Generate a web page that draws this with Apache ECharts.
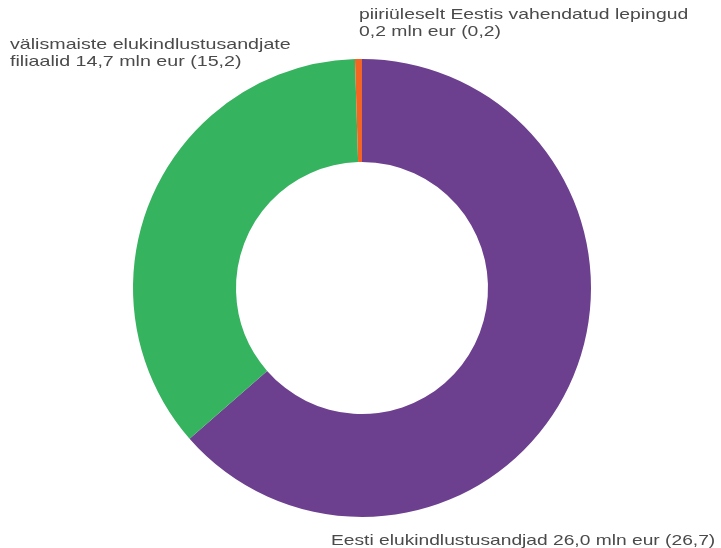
<!DOCTYPE html>
<html>
<head>
<meta charset="utf-8">
<script src="https://cdn.jsdelivr.net/npm/echarts@6/dist/echarts.min.js"></script>
<style>
  html, body { margin: 0; padding: 0; background: #fff; }
  #chart { width: 721px; height: 548px; }
</style>
</head>
<body>
<div id="chart"></div>
<script>
const names = ["Eesti elukindlustusandjad", "välismaiste elukindlustusandjate\nfiliaalid ", "piiriüleselt Eestis vahendatud lepingud\n"];
const values = [26.0, 14.7, 0.2];
const prevValues = ["26,7", "15,2", "0,2"];
const colors = ["#6c3f8f", "#36b35f", "#f26522"];

function fmt(v) {
  return v.toFixed(1).replace(".", ",");
}
function labelText(i) {
  let sep = names[i].endsWith("\n") || names[i].endsWith(" ") ? "" : " ";
  return names[i] + sep + fmt(values[i]) + " mln eur (" + prevValues[i] + ")";
}

const chart = echarts.init(document.getElementById("chart"));
const font = { fontFamily: "Liberation Sans", fontSize: 15, fill: "#4a4a4a", lineHeight: 17, verticalAlign: "top" };

function label(i, x, y, sx) {
  return {
    type: "text",
    x: x,
    y: y,
    scaleX: sx,
    style: Object.assign({ text: labelText(i), x: 0, y: 0 }, font)
  };
}

chart.setOption({
  animation: false,
  series: [
    {
      type: "pie",
      center: [362, 288],
      radius: [126, 229],
      startAngle: 90,
      clockwise: true,
      label: { show: false },
      labelLine: { show: false },
      itemStyle: { borderWidth: 0 },
      data: values.map((v, i) => ({ value: v, name: names[i], itemStyle: { color: colors[i] } }))
    }
  ],
  graphic: [
    label(2, 359, 6, 1.29),
    label(1, 10, 36, 1.31),
    label(0, 331, 532, 1.28)
  ]
});
</script>
</body>
</html>
